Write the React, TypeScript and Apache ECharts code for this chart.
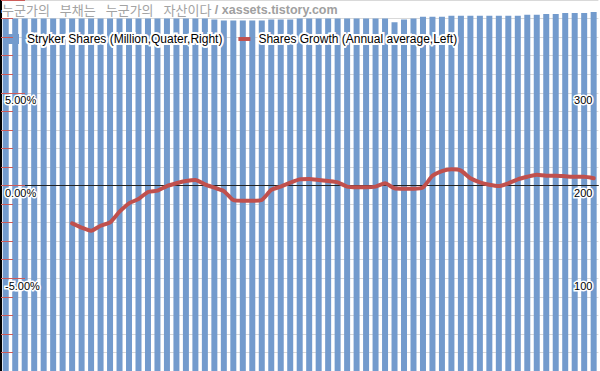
import React, { useEffect, useRef } from "react";
import * as echarts from "echarts";

// Quarterly periods (63 quarters shown)
const periods: string[] = Array.from({ length: 63 }, (_, i) => `Q${i + 1}`);

// Stryker shares outstanding, million (right axis)
const sharesMillion: number[] = [
  380, 380, 380, 380, 380, 380, 380, 380, 380, 380,
  380, 380, 380, 380, 380, 380, 380, 380, 380, 380,
  380, 380, 379, 378, 378, 378, 378, 378, 379, 379,
  379, 380, 380, 380, 380, 380, 380, 380, 380, 380,
  380, 376, 379, 380, 382, 382, 382, 383, 383, 383,
  383, 383, 383, 383, 383, 384, 384, 385, 385, 386,
  386, 386, 387,
];

// Annual average share growth, % (left axis)
const growthPct: (number | null)[] = [
  null, null, null, null, null, null, null,
  -2.04, -2.27, -2.44, -2.17, -1.99, -1.41, -0.96, -0.73, -0.35, -0.28,
  -0.03, 0.12, 0.24, 0.3, 0.06, -0.12, -0.3, -0.78, -0.82, -0.82,
  -0.78, -0.24, -0.06, 0.15, 0.33, 0.35, 0.3, 0.24, 0.17, -0.06,
  -0.1, -0.1, -0.06, 0.12, -0.15, -0.17, -0.17, -0.1, 0.52, 0.78,
  0.87, 0.8, 0.39, 0.17, 0.04, -0.03, 0.12, 0.33, 0.47, 0.58,
  0.53, 0.53, 0.5, 0.47, 0.47, 0.39,
];

const seriesNames = [
  "Stryker Shares (Million,Quater,Right)",
  "Shares Growth (Annual average,Left)",
];

const titleWords = ["누군가의", "부채는", "누군가의", "자산이다"];
const siteText = " / xassets.tistory.com";

const FONT = "'Liberation Sans', Arial, sans-serif";
const BAR_COLOR = "#739BCD";
const LINE_COLOR = "#C0504D";
const TICK_COLOR = "#CD5B58";
const TITLE_GRAY = "#A3A3A3";

export default function App() {
  const ref = useRef<HTMLDivElement>(null);

  useEffect(() => {
    if (!ref.current) return;
    const chart = echarts.init(ref.current, undefined, { renderer: "svg" });

    const haloLabel = {
      color: "#000",
      fontSize: 11,
      fontFamily: FONT,
      textBorderColor: "#fff",
      textBorderWidth: 3,
    };

    // Korean words joined by fixed-width gaps, followed by the site address
    const titleRich = titleWords.map((w) => `{k|${w}}`).join("{s| }") + `{u|${siteText}}`;

    chart.setOption({
      animation: false,
      backgroundColor: "#fff",
      grid: {
        left: 1,
        right: 1.6,
        top: 0,
        bottom: 0,
        containLabel: false,
        outerBoundsMode: "none",
      },
      legend: {
        left: 2,
        top: 26,
        itemWidth: 12,
        itemHeight: 10,
        itemGap: 14,
        textStyle: {
          color: "#000",
          fontSize: 12,
          fontFamily: FONT,
          textBorderColor: "#fff",
          textBorderWidth: 4,
          padding: [0, 0, 0, 3],
        },
        data: [
          { name: seriesNames[0], icon: "rect" },
          { name: seriesNames[1], icon: "path://M0,0H11V3.6H0Z" },
        ],
      },
      graphic: [
        {
          type: "text",
          left: 1,
          top: 2,
          z: 20,
          style: {
            text: titleRich,
            fill: TITLE_GRAY,
            stroke: "#fff",
            lineWidth: 2,
            rich: {
              k: {
                fontFamily: "'Noto Sans CJK KR', sans-serif",
                fontSize: 13,
                fill: TITLE_GRAY,
                stroke: "#fff",
                lineWidth: 2,
              },
              s: {
                width: 10,
                fontSize: 13,
              },
              u: {
                fontFamily: FONT,
                fontSize: 12.5,
                fontWeight: "bold",
                fill: "#A0A0A0",
                stroke: "#fff",
                lineWidth: 2,
              },
            },
          },
        },
      ],
      xAxis: {
        type: "category",
        data: periods,
        z: 5,
        axisLine: {
          show: true,
          onZero: true,
          onZeroAxisIndex: 0,
          lineStyle: { color: "#222", width: 1 },
        },
        axisTick: { show: false },
        axisLabel: { show: false },
        splitLine: { show: false },
      },
      yAxis: [
        {
          type: "value",
          position: "left",
          min: -10,
          max: 10,
          interval: 5,
          z: 5,
          axisLine: { show: true, lineStyle: { color: "#000", width: 2 } },
          axisTick: {
            show: true,
            inside: true,
            length: 24,
            lineStyle: { color: TICK_COLOR, width: 1 },
          },
          minorTick: {
            show: true,
            splitNumber: 5,
            length: 12,
            lineStyle: { color: TICK_COLOR, width: 1 },
          },
          splitLine: { show: false },
          axisLabel: {
            ...haloLabel,
            inside: true,
            margin: 4,
            verticalAlign: "top",
            padding: [2, 0, 0, 0],
            showMinLabel: false,
            showMaxLabel: false,
            formatter: (v: number) => `${v.toFixed(2)}%`,
          },
        },
        {
          type: "value",
          position: "right",
          min: 0,
          max: 400,
          interval: 100,
          z: 5,
          axisLine: { show: false },
          axisTick: { show: false },
          splitLine: { show: false },
          axisLabel: {
            ...haloLabel,
            inside: true,
            margin: 6,
            verticalAlign: "top",
            padding: [2, 0, 0, 0],
            showMinLabel: false,
            showMaxLabel: false,
          },
        },
        {
          // gridlines every 20 units, drawn beneath the bars
          type: "value",
          position: "right",
          min: 0,
          max: 400,
          interval: 20,
          z: 0,
          axisLine: { show: false },
          axisTick: { show: false },
          axisLabel: { show: false },
          splitLine: { show: true, lineStyle: { color: "#D9D9D9", width: 1 } },
        },
      ],
      series: [
        {
          name: seriesNames[0],
          type: "bar",
          yAxisIndex: 1,
          data: sharesMillion,
          barWidth: 6,
          itemStyle: { color: BAR_COLOR },
          z: 2,
        },
        {
          name: seriesNames[1],
          type: "line",
          yAxisIndex: 0,
          data: growthPct,
          symbol: "none",
          smooth: 0.2,
          connectNulls: false,
          lineStyle: { color: LINE_COLOR, width: 4, cap: "round", join: "round" },
          itemStyle: { color: LINE_COLOR },
          z: 8,
        },
      ],
    });

    return () => chart.dispose();
  }, []);

  return (
    <div
      ref={ref}
      style={{ position: "fixed", left: 0, top: 0, width: 600, height: 371 }}
    />
  );
}
